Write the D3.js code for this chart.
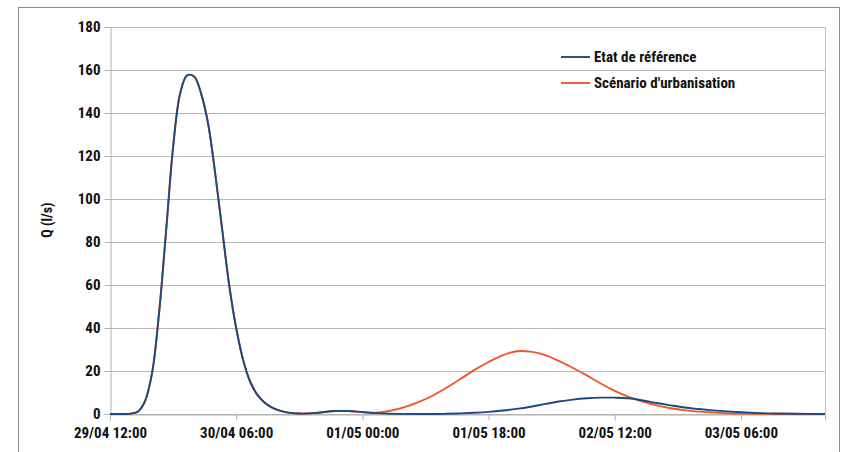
<!DOCTYPE html>
<html>
<head>
<meta charset="utf-8">
<script src="https://cdn.jsdelivr.net/npm/d3@7"></script>
<style>
  html, body { margin: 0; padding: 0; background: #fff; }
  svg { display: block; }
  text { font-family: "Liberation Sans Narrow", "Roboto Condensed", "DejaVu Sans Condensed", "Liberation Sans", sans-serif; font-weight: bold; fill: #111; }
</style>
</head>
<body>
<svg id="chart" width="842" height="452"></svg>
<script>
// Time offsets in hours from 29/04 12:00
const hours = [0,1,2,3,4,5,6,7,8,9,10,11,12,13,14,15,16,17,18,19,20,21,22,23,24,25,26,27,28,29,30,
  32,34,36,38,40,42,44,46,48,50,52,54,56,58,60,62,64,66,68,70,72,74,76,78,80,82,84,86,88,90,92,94,96,98,100,102];

const etatReference = [0,0,0,0.2,1.2,6,19,47,85,124,149,157.5,157,149,135,112,86,60,40,25,15,9,5.5,3.2,1.8,0.9,0.4,0.2,0.2,0.4,0.7,
  1.4,1.4,0.9,0.4,0.15,0.05,0,0,0.1,0.3,0.6,1.0,1.6,2.4,3.4,4.6,5.8,6.7,7.3,7.6,7.6,7.3,6.3,5.1,4.0,3.0,2.3,1.7,1.2,0.8,0.5,0.3,0.2,0.1,0.05,0];

const scenarioUrbanisation = [0,0,0,0.2,1.2,6,19,47,85,124,149,157.5,157,149,135,112,86,60,40,25,15,9,5.5,3.2,1.8,0.9,0.4,0.2,0.2,0.4,0.7,
  1.4,1.4,0.9,0.6,1.5,3.2,5.5,8.5,12.2,16.3,20.5,24.2,27.3,29.2,29.0,27.5,24.7,21.5,18,14.2,10.8,8.0,5.8,4.0,2.7,1.8,1.1,0.7,0.35,0.2,0.1,0.05,0,0,0,0];

const xTickHours = [0,18,36,54,72,90];
const xTickLabels = ["29/04 12:00","30/04 06:00","01/05 00:00","01/05 18:00","02/05 12:00","03/05 06:00"];
const yTicks = [0,20,40,60,80,100,120,140,160,180];
const seriesNames = ["Etat de référence","Scénario d'urbanisation"];
const seriesColors = ["#1b4a82","#f0582a"];

const svg = d3.select("#chart");
const W = 842, H = 452;
const m = {left:110, right:17, top:27, bottom:38};

// outer frame
svg.append("rect").attr("x",18.5).attr("y",7.5).attr("width",821).attr("height",460)
  .attr("fill","none").attr("stroke","#8a8a8a").attr("stroke-width",1);

const x = d3.scaleLinear().domain([0,102]).range([m.left, W - m.right]);
const y = d3.scaleLinear().domain([0,180]).range([H - m.bottom, m.top]);

// gridlines
svg.append("g").selectAll("line").data(yTicks).join("line")
  .attr("x1", m.left).attr("x2", W - m.right)
  .attr("y1", d => Math.round(y(d)) + 0.5).attr("y2", d => Math.round(y(d)) + 0.5)
  .attr("stroke","#b8b8b8").attr("stroke-width",1.2);

// right border of plot
svg.append("line").attr("x1", W - m.right + 0.5).attr("x2", W - m.right + 0.5)
  .attr("y1", y(180)).attr("y2", y(0)).attr("stroke","#c4c4c4").attr("stroke-width",1);

// y axis
const yAxis = d3.axisLeft(y).tickValues(yTicks).tickSize(6).tickPadding(4);
const gy = svg.append("g").attr("transform",`translate(${m.left + 0.5},0)`).call(yAxis);
gy.select(".domain").attr("stroke","#b0b0b0");
gy.selectAll(".tick line").attr("stroke","#b0b0b0");
gy.selectAll(".tick text").attr("font-size",15).attr("fill","#111");

// x axis
const xAxis = d3.axisBottom(x).tickValues(xTickHours).tickFormat((d,i) => xTickLabels[i]).tickSize(6).tickPadding(7);
const gx = svg.append("g").attr("transform",`translate(0,${Math.round(y(0)) + 0.5})`).call(xAxis);
gx.select(".domain").attr("stroke","#b0b0b0");
gx.selectAll(".tick line").attr("stroke","#b0b0b0");
gx.selectAll(".tick text").attr("font-size",15).attr("fill","#111");
d3.selectAll("g").attr("font-family",null);

// y label
svg.append("text").attr("transform","translate(52,220) rotate(-90)")
  .attr("text-anchor","middle").attr("font-size",14).text("Q (l/s)");

// lines
const line = d3.line().x((d,i) => x(hours[i])).y(d => y(d)).curve(d3.curveCatmullRom.alpha(0.5));
svg.append("path").datum(scenarioUrbanisation).attr("d", line)
  .attr("fill","none").attr("stroke",seriesColors[1]).attr("stroke-width",1.9);
svg.append("path").datum(etatReference).attr("d", line)
  .attr("fill","none").attr("stroke",seriesColors[0]).attr("stroke-width",1.9);

// legend
const lg = svg.append("g");
seriesNames.forEach((name,i) => {
  const ly = 57 + i*26;
  lg.append("line").attr("x1",561).attr("x2",590).attr("y1",ly).attr("y2",ly)
    .attr("stroke",seriesColors[i]).attr("stroke-width",1.9);
  lg.append("text").attr("x",594).attr("y",ly + 5).attr("font-size",15).text(name);
});
</script>
</body>
</html>
